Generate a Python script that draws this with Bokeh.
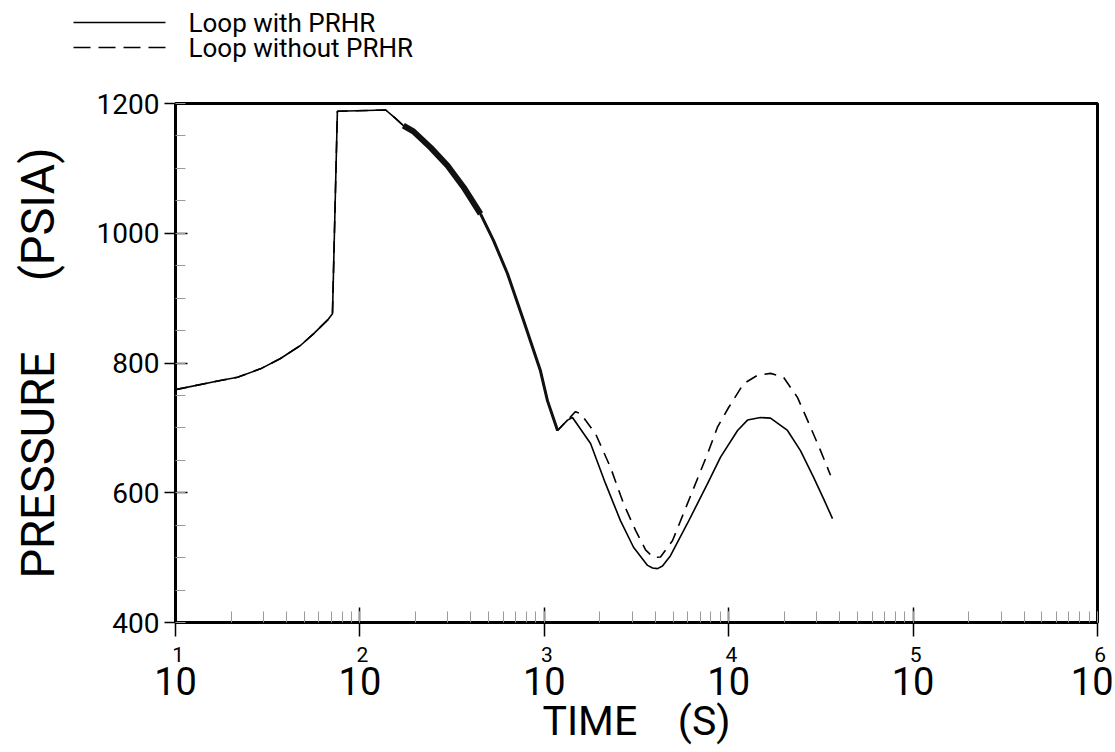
from bokeh.plotting import figure
from bokeh.layouts import column
from bokeh.models import (Range1d, SingleIntervalTicker, LogTicker, LogAxis,
                          CustomJSTickFormatter)
from bokeh.core.properties import value
from bokeh.embed import file_html
from bokeh.resources import INLINE

# ---- data ----
time_with = [10, 17.5, 21.7, 28.9, 37.1, 47.6, 56.0, 66.7, 71.0, 75.5,
             138, 156, 172, 195, 242, 299, 365, 451, 530, 631,
             771, 953, 1040, 1180, 1337, 1422, 1782, 2149, 2588, 3047,
             3630, 3864, 4115, 4375, 4834, 5979, 7677, 9033, 11170, 12650,
             14870, 16860, 20840, 24500, 28830, 32670, 36560]
pres_with = [759, 773, 778, 791, 807, 827, 845, 866, 876, 1188,
             1190, 1177, 1166, 1157, 1132, 1104, 1071, 1030, 989, 938,
             866, 788, 742, 696, 712, 716, 676, 614, 557, 516,
             488, 484, 483, 487, 503, 553, 614, 655, 696, 712,
             716, 715, 696, 665, 624, 591, 560]

time_without = [10, 17.5, 21.7, 28.9, 37.1, 47.6, 56.0, 66.7, 71.0, 75.5,
                138, 156, 172, 195, 242, 299, 365, 451, 530, 631,
                771, 953, 1040, 1180, 1476, 1572, 1896, 2286, 2692, 3126,
                3540, 3910, 4266, 4955, 5685, 6606, 7677, 8690, 9970, 12030,
                14320, 16860, 19820, 23600, 27100, 31480, 35650]
pres_without = [759, 773, 778, 791, 807, 827, 845, 866, 876, 1188,
                1190, 1177, 1166, 1157, 1132, 1104, 1071, 1030, 989, 938,
                866, 788, 742, 696, 725, 722, 691, 639, 583, 542,
                512, 500, 501, 526, 568, 614, 660, 701, 731, 768,
                781, 784, 778, 747, 708, 665, 627]

series_names = ["Loop with PRHR", "Loop without PRHR"]
x_label = "TIME\u00a0\u00a0\u00a0\u00a0(S)"
y_label = "PRESSURE\u00a0\u00a0\u00a0\u00a0\u00a0\u00a0(PSIA)"

FONT = "Roboto"
W = 1113
LEG_H = 70

# ---------------- legend strip (its own small figure) ----------------
leg = figure(width=W, height=LEG_H, frame_width=W, frame_height=LEG_H,
             x_range=Range1d(0, W), y_range=Range1d(LEG_H, 0),
             x_axis_location=None, y_axis_location=None,
             output_backend="svg", toolbar_location=None, frame_align=False,
             min_border=0, min_border_left=0, min_border_right=0,
             min_border_top=0, min_border_bottom=0)
leg.grid.visible = False
leg.outline_line_alpha = 0
leg.line([73, 165], [22, 22], line_color="black", line_width=1.6)
leg.line([73, 165], [47, 47], line_color="black", line_width=1.6, line_dash="17 8")
leg.text([188, 188], [22, 47], text=series_names, text_baseline="middle",
         text_align="left", text_font=value(FONT), text_font_size="26px",
         text_color="black")

# ---------------- main chart ----------------
p = figure(width=W, height=752 - LEG_H, x_axis_type="log",
           x_range=Range1d(10, 1e6), y_range=Range1d(400, 1200),
           output_backend="svg", toolbar_location=None, frame_align=False,
           frame_width=922, frame_height=519,
           min_border_left=175, min_border_right=16,
           min_border_top=103 - LEG_H, min_border_bottom=110)
p.grid.visible = False
p.outline_line_color = "black"
p.outline_line_width = 3

# dashed first, solid on top
p.line(time_without, pres_without, line_color="black", line_width=1.6, line_dash="12 8")
p.line(time_with, pres_with, line_color="black", line_width=1.6)
# oscillating stretch of the depressurisation, drawn heavier
p.line(time_with[12:18], pres_with[12:18], line_color="#111111", line_width=6)
p.line(time_with[17:24], pres_with[17:24], line_color="#111111", line_width=3)

# ---- x axis: primary axis carries ticks and the decade exponents ----
xa = p.xaxis[0]
xa.ticker = LogTicker(num_minor_ticks=10)
xa.formatter = CustomJSTickFormatter(
    code="return '\u00a0' + String(Math.round(Math.log10(tick)))")
xa.axis_line_width = 3
xa.major_tick_in = 15
xa.major_tick_out = 14
xa.major_tick_line_width = 1.5
xa.minor_tick_in = 11
xa.minor_tick_out = 0
xa.minor_tick_line_color = "#9a9a9a"
xa.major_label_standoff = 6
xa.major_label_text_align = "left"
xa.major_label_text_font = FONT
xa.major_label_text_font_size = "21px"
xa.major_label_text_color = "black"

# second axis below: the "10" base of each decade label, and the axis title
xb = LogAxis(ticker=LogTicker(num_minor_ticks=10),
             formatter=CustomJSTickFormatter(code="return '10'"))
xb.axis_line_alpha = 0
xb.major_tick_in = 0
xb.major_tick_out = 0
xb.minor_tick_in = 0
xb.minor_tick_out = 0
xb.major_tick_line_alpha = 0
xb.minor_tick_line_alpha = 0
xb.major_label_standoff = -3
xb.major_label_text_font = FONT
xb.major_label_text_font_size = "38px"
xb.major_label_text_color = "black"
xb.axis_label = x_label
xb.axis_label_text_font = FONT
xb.axis_label_text_font_size = "41px"
xb.axis_label_text_font_style = "normal"
xb.axis_label_text_color = "black"
xb.axis_label_standoff = -1
p.add_layout(xb, "below")

# ---- y axis ----
ya = p.yaxis[0]
ya.ticker = SingleIntervalTicker(interval=200, num_minor_ticks=4)
ya.axis_line_width = 3
ya.major_tick_in = 12
ya.major_tick_out = 11
ya.major_tick_line_width = 1.5
ya.minor_tick_in = 10
ya.minor_tick_out = 0
ya.minor_tick_line_color = "#9a9a9a"
ya.major_label_standoff = 5
ya.major_label_text_font = FONT
ya.major_label_text_font_size = "28px"
ya.major_label_text_color = "black"
ya.axis_label = y_label
ya.axis_label_text_font = FONT
ya.axis_label_text_font_size = "47px"
ya.axis_label_text_font_style = "normal"
ya.axis_label_text_color = "black"
ya.axis_label_standoff = 29

open("out.html", "w").write(file_html(column(leg, p, spacing=0), INLINE))
